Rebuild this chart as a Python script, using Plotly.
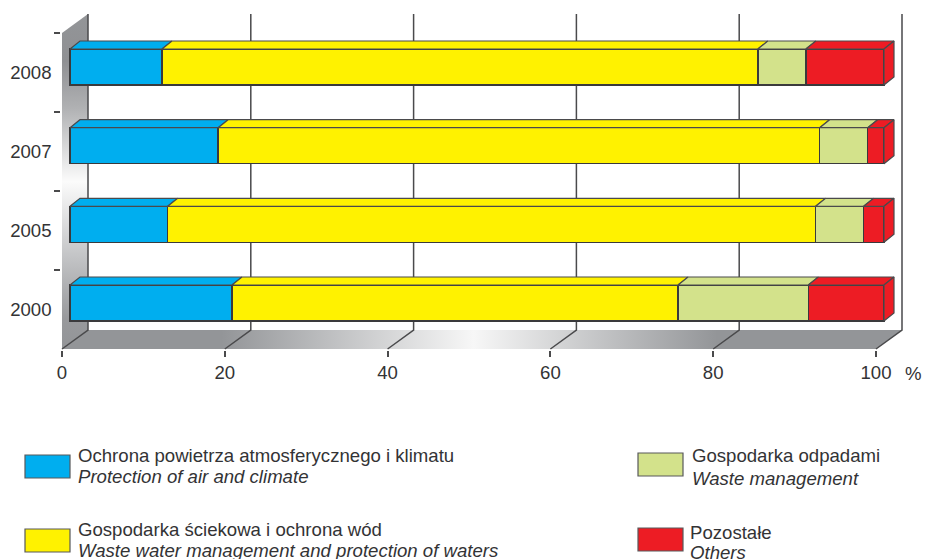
import plotly.graph_objects as go

# ---- data ----
YEARS = ["2000", "2005", "2007", "2008"]
AIR = [19.9, 12.0, 18.2, 11.3]
WATER = [54.8, 79.6, 73.9, 73.2]
WASTE = [16.0, 5.9, 5.9, 5.9]
OTHERS = [9.3, 2.5, 2.0, 9.6]
X_TICKS = [0, 20, 40, 60, 80, 100]
SERIES_COLORS = ["#00AEEF", "#FFF200", "#D3E28B", "#ED1C24"]
LEGEND_PL = ["Ochrona powietrza atmosferycznego i klimatu", "Gospodarka ściekowa i ochrona wód",
             "Gospodarka odpadami", "Pozostałe"]
LEGEND_EN = ["Protection of air and climate", "Waste water management and protection of waters",
             "Waste management", "Others"]

# ---- layout constants (pixels of the 925x559 page) ----
W, H = 925, 559
PX_PER_PCT = 8.14
BAR_X0, BAR_Y0, BAND_PX = 70, 303, 78.67
BAR_PX, DEPTH_X, DEPTH_Y = 36, 10, 8
FLOOR_FRONT_X, FLOOR_FRONT_Y, TOP_FRONT_Y = 62, 349, 33
WALL_DX, WALL_DY = 26, 19
LINE = "#4a4a4c"
TEXT = "#333335"
FONT = "Liberation Sans"
FS = 18.6


def ux(px):
    return (px - BAR_X0) / PX_PER_PCT


def uy(py):
    return (BAR_Y0 - py) / BAND_PX


series = [AIR, WATER, WASTE, OTHERS]
idx = list(range(len(YEARS)))
half = BAR_PX / BAND_PX / 2
dx = DEPTH_X / PX_PER_PCT
dy = DEPTH_Y / BAND_PX
fig = go.Figure()

hidden = dict(xaxis="x", yaxis="y", showlegend=False, hoverinfo="skip")

# side wall and floor with their metallic gradients
wall_x = [FLOOR_FRONT_X, FLOOR_FRONT_X + WALL_DX, FLOOR_FRONT_X + WALL_DX, FLOOR_FRONT_X, FLOOR_FRONT_X]
wall_y = [TOP_FRONT_Y, TOP_FRONT_Y - WALL_DY, FLOOR_FRONT_Y - WALL_DY, FLOOR_FRONT_Y, TOP_FRONT_Y]
fig.add_trace(go.Scatter(
    x=[ux(p) for p in wall_x], y=[uy(p) for p in wall_y], mode="lines", fill="toself",
    line=dict(width=0),
    fillgradient=dict(type="vertical", colorscale=[
        [0, "#939598"], [0.09, "#98999c"], [0.28, "#c4c5c7"], [0.5, "#fbfbfb"],
        [0.72, "#b0b1b3"], [0.86, "#8f9093"], [1, "#939598"]]),
    **hidden))
right = FLOOR_FRONT_X + 100 * PX_PER_PCT
floor_x = [FLOOR_FRONT_X, FLOOR_FRONT_X + WALL_DX, right + WALL_DX, right, FLOOR_FRONT_X]
floor_y = [FLOOR_FRONT_Y, FLOOR_FRONT_Y - WALL_DY, FLOOR_FRONT_Y - WALL_DY, FLOOR_FRONT_Y, FLOOR_FRONT_Y]
fig.add_trace(go.Scatter(
    x=[ux(p) for p in floor_x], y=[uy(p) for p in floor_y], mode="lines", fill="toself",
    line=dict(width=0),
    fillgradient=dict(type="horizontal", colorscale=[
        [0, "#939598"], [0.19, "#939598"], [0.49, "#f7f7f7"], [0.78, "#939598"], [1, "#939598"]]),
    **hidden))

# back-wall gridlines and floor diagonals, one per tick
gx, gy = [], []
for t in X_TICKS:
    front = FLOOR_FRONT_X + t * PX_PER_PCT
    gx += [ux(front + WALL_DX), ux(front + WALL_DX), ux(front), None]
    gy += [uy(TOP_FRONT_Y - WALL_DY), uy(FLOOR_FRONT_Y - WALL_DY), uy(FLOOR_FRONT_Y), None]
fig.add_trace(go.Scatter(x=gx, y=gy, mode="lines", line=dict(color=LINE, width=1.5), **hidden))

# front faces: stacked bars
for vals, col, name in zip(series, SERIES_COLORS, LEGEND_PL):
    fig.add_trace(go.Bar(
        x=vals, y=idx, orientation="h", width=BAR_PX / BAND_PX, name=name,
        marker=dict(color=col, line=dict(color="#3a3a3c", width=1.5)),
        xaxis="x", yaxis="y", showlegend=False, zorder=1))

# top faces, one trace per series
start = [0.0] * len(YEARS)
for vals, col in zip(series, SERIES_COLORS):
    tx, ty = [], []
    for i, (s, v) in enumerate(zip(start, vals)):
        e = s + v
        t = i + half
        tx += [s, s + dx, e + dx, e, s, None]
        ty += [t, t + dy, t + dy, t, t, None]
    fig.add_trace(go.Scatter(x=tx, y=ty, mode="lines", fill="toself", fillcolor=col,
                             line=dict(color="#4a4a4c", width=1.2), zorder=2, **hidden))
    start = [s + v for s, v in zip(start, vals)]

# right end faces
sx, sy = [], []
for i, e in enumerate(start):
    sx += [e, e + dx, e + dx, e, e, None]
    sy += [i + half, i + half + dy, i - half + dy, i - half, i + half, None]
fig.add_trace(go.Scatter(x=sx, y=sy, mode="lines", fill="toself", fillcolor=SERIES_COLORS[3],
                         line=dict(color="#4a4a4c", width=1.2), zorder=2, **hidden))

# carrier of the visible axes
fig.add_trace(go.Scatter(x=[0] * len(YEARS), y=YEARS, mode="markers", marker=dict(opacity=0),
                         xaxis="x2", yaxis="y2", showlegend=False, hoverinfo="skip"))

axis_font = dict(family=FONT, size=FS, color=TEXT)
fig.update_layout(
    width=W, height=H, autosize=False,
    margin=dict(l=0, r=0, t=0, b=0, pad=0, autoexpand=False),
    paper_bgcolor="white", plot_bgcolor="rgba(0,0,0,0)", barmode="stack", showlegend=False,
    font=axis_font,
    xaxis=dict(domain=[0, 1], range=[ux(0), ux(W)], visible=False, fixedrange=True),
    yaxis=dict(domain=[0, 1], range=[uy(H), uy(0)], visible=False, fixedrange=True),
    xaxis2=dict(domain=[FLOOR_FRONT_X / W, (FLOOR_FRONT_X + 100 * PX_PER_PCT) / W], range=[0, 100],
                anchor="y2", tickvals=X_TICKS, ticks="outside", ticklen=6,
                tickwidth=1.5, tickcolor=LINE, showline=True, linecolor=LINE, linewidth=1.5,
                showgrid=False, zeroline=False, tickfont=axis_font, fixedrange=True),
    yaxis2=dict(domain=[(H - FLOOR_FRONT_Y) / H, (H - TOP_FRONT_Y) / H], type="category",
                categoryorder="array", categoryarray=YEARS, anchor="x2", range=[-0.5, 3.5],
                ticks="outside", tickson="boundaries", ticklen=6, tickwidth=1.5, tickcolor=LINE,
                showline=True, linecolor=LINE, linewidth=1.5, showgrid=False, zeroline=False,
                ticklabelstandoff=5, tickfont=axis_font, fixedrange=True),
)

# legend built at the reference's free positions
SWATCH_X = [25, 25, 638, 638]
SWATCH_Y = [455, 529, 453, 528]
TEXT_X = [77, 77, 691, 689]
LINE1_Y = [455, 529, 455, 532]
LINE2_Y = [476, 550, 478, 552]
shapes, notes = [], []
for i in range(4):
    shapes.append(dict(type="rect", xref="paper", yref="paper",
                       x0=SWATCH_X[i] / W, x1=(SWATCH_X[i] + 45) / W,
                       y0=1 - SWATCH_Y[i] / H, y1=1 - (SWATCH_Y[i] + 23) / H,
                       fillcolor=SERIES_COLORS[i], line=dict(color="#58595b", width=1.2)))
    for txt, py in ((LEGEND_PL[i], LINE1_Y[i]), ("<i>%s</i>" % LEGEND_EN[i], LINE2_Y[i])):
        notes.append(dict(text=txt, xref="paper", yref="paper", x=TEXT_X[i] / W, y=1 - py / H,
                          xanchor="left", yanchor="middle", showarrow=False,
                          font=dict(family=FONT, size=FS, color=TEXT), borderpad=0))
notes.append(dict(text="%", xref="paper", yref="paper", x=913 / W, y=1 - 373 / H,
                  xanchor="center", yanchor="middle", showarrow=False,
                  font=dict(family=FONT, size=FS, color=TEXT), borderpad=0))
fig.update_layout(shapes=shapes, annotations=notes)

fig.write_html("out.html", config=dict(displayModeBar=False),
               post_script="document.body.style.margin='0';document.documentElement.style.overflow='hidden';")
